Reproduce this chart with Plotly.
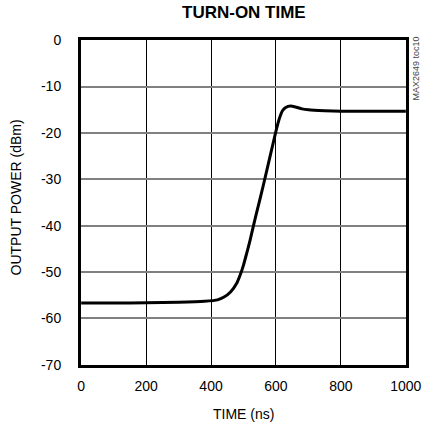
import plotly.graph_objects as go

time_ns = [0, 100, 200, 300, 380, 420, 440, 460, 480, 490, 500, 510, 520, 530, 540, 550,
           560, 570, 580, 590, 600, 610, 620, 630, 645, 660, 680, 700, 750, 800, 900, 1000]
power_dbm = [-56.7, -56.7, -56.6, -56.5, -56.3, -56.0, -55.4, -54.3, -52.3, -50.6, -48.5,
             -45.9, -43.2, -40.2, -37.3, -34.5, -31.6, -28.6, -25.6, -22.6, -19.6, -17.0,
             -15.2, -14.5, -14.2, -14.4, -14.8, -15.0, -15.2, -15.3, -15.3, -15.3]

x_ticks = [0, 200, 400, 600, 800, 1000]
x_labels = ["0", "200", "400", "600", "800", "1000"]
y_ticks = [0, -10, -20, -30, -40, -50, -60, -70]
y_labels = ["0", "-10", "-20", "-30", "-40", "-50", "-60", "-70"]

font_family = "Liberation Sans, Arial, sans-serif"

fig = go.Figure()
fig.add_trace(go.Scatter(x=time_ns, y=power_dbm, mode="lines",
                         line=dict(color="black", width=3, shape="spline", smoothing=0.5),
                         hoverinfo="skip", showlegend=False))

fig.update_layout(
    width=422, height=428,
    margin=dict(l=81, r=16, t=40, b=63, autoexpand=False),
    paper_bgcolor="white", plot_bgcolor="white",
    font=dict(family=font_family, size=14, color="black"),
    xaxis=dict(range=[-0.5, 1000.5], tickvals=x_ticks, ticktext=x_labels, ticks="",
               showgrid=True, gridcolor="black", gridwidth=1, zeroline=False,
               showline=True, linecolor="black", linewidth=3, mirror=True, automargin=False,
               ticklabelstandoff=6, tickfont=dict(size=14)),
    yaxis=dict(range=[-70.05, 0.05], tickvals=y_ticks, ticktext=y_labels, ticks="",
               showgrid=True, gridcolor="#808080", gridwidth=2, zeroline=False,
               showline=True, linecolor="black", linewidth=3, mirror=True, automargin=False,
               ticklabelstandoff=14, tickfont=dict(size=14)),
    annotations=[
        dict(text="<b>TURN-ON TIME</b>", xref="paper", yref="paper", x=0.5, y=1.0,
             xanchor="center", yanchor="middle", yshift=27.5, showarrow=False,
             font=dict(size=17, color="black", family=font_family)),
        dict(text="TIME (ns)", xref="paper", yref="paper", x=0.5, y=0.0,
             xanchor="center", yanchor="middle", yshift=-49, showarrow=False,
             font=dict(size=14, color="black", family=font_family)),
        dict(text="OUTPUT POWER (dBm)", xref="paper", yref="paper", x=0.0, y=0.5,
             xanchor="center", yanchor="middle", xshift=-66, yshift=5, textangle=-90,
             showarrow=False, font=dict(size=14, color="black", family=font_family)),
        dict(text="MAX2649 toc10", xref="paper", yref="paper", x=1.0, y=1.0,
             xanchor="center", yanchor="middle", xshift=9, yshift=-28.5, textangle=-90,
             showarrow=False, font=dict(size=9, color="#444444", family=font_family)),
    ],
)

fig.write_html("out.html", config={"displayModeBar": False, "staticPlot": True},
               post_script="document.body.style.margin='0';document.body.style.overflow='hidden';")
